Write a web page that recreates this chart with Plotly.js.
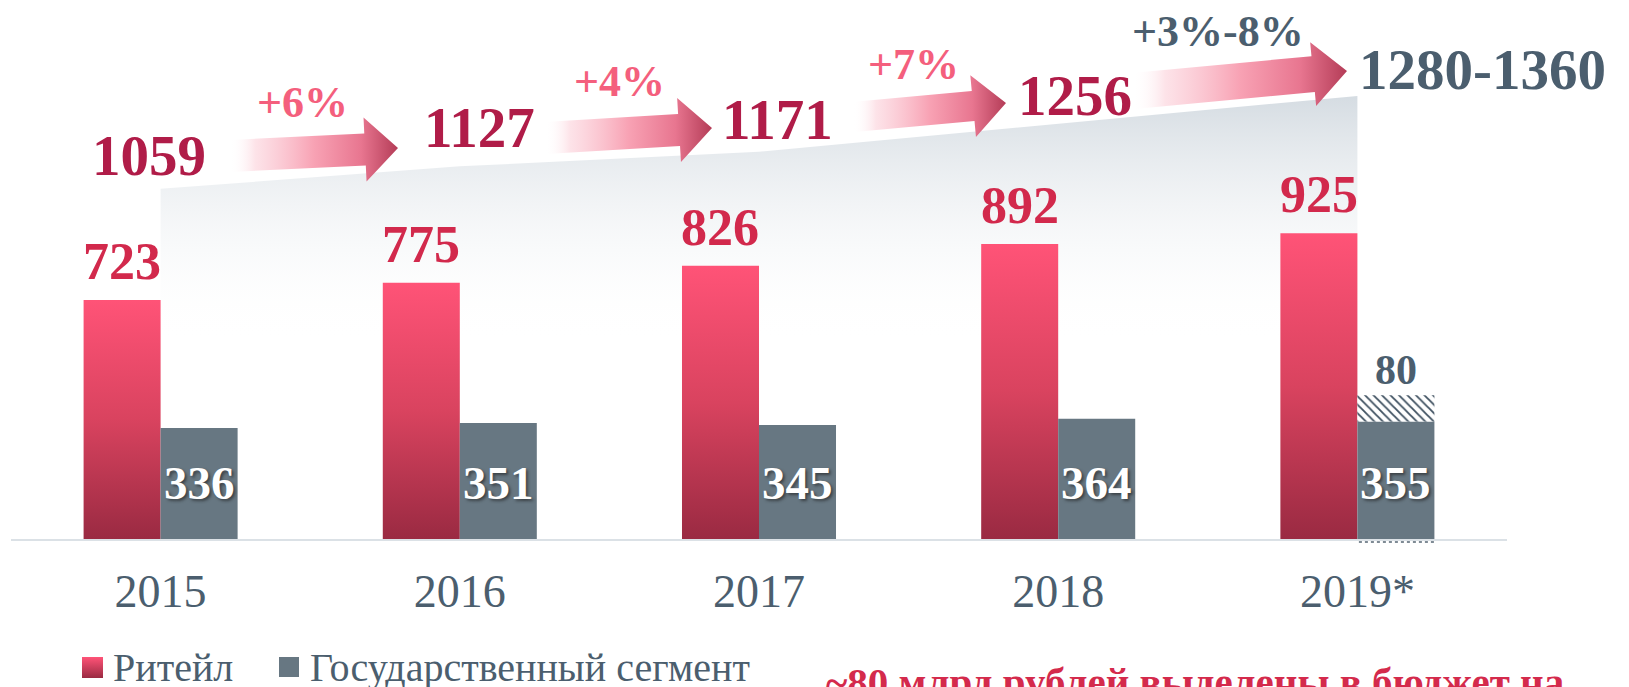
<!DOCTYPE html>
<html><head><meta charset="utf-8">
<script src="https://cdn.plot.ly/plotly-3.0.1.min.js"></script>
<style>html,body{margin:0;padding:0;background:#fff;overflow:hidden}#chart{width:1629px;height:687px}</style>
</head><body><div id="chart"></div>
<script>
// ---- data ----
const years = ['2015', '2016', '2017', '2018', '2019*'];
const retail = [723, 775, 826, 892, 925];
const government = [336, 351, 345, 364, 355];
const govExtra = [null, null, null, null, 80];
const totals = [1059, 1127, 1171, 1256, 1340];      // top edge of the shaded total area (2019 estimated)
const totalLabels = ['1059', '1127', '1171', '1256', '1280-1360'];
const growthLabels = ['+6%', '+4%', '+7%', '+3%-8%'];
const seriesNames = ['Ритейл', 'Государственный сегмент'];
const noteText = '~80 млрд рублей выделены в бюджет на';

// ---- layout helpers ----
const W = 1629, H = 687;
const PL = 11, PR = 1507, PB = 539;
const YMAX = 1630;
const BW = 0.2574;
const FONT = 'Liberation Serif, Times New Roman, serif';
const SLATE = '#4b5e6e';
const xs = years.map((_, i) => i);
const px = x => x / W, py = y => 1 - y / H;

// decorative arrows (pixel geometry): tail center, tip, shaft half, head half, head length
const arrowGeom = [
  [230, 156, 398, 148, 16, 32, 33],
  [545, 138, 712, 128, 16, 32, 33],
  [853, 117, 1006, 103, 15, 31, 33],
  [1133, 91, 1347, 71, 18, 32, 34]
];
const totalPos = [[149, 155], [479, 127], [777, 120], [1075, 95], [1357, 70]];
const growthPos = [[302, 103], [619, 82], [913, 64], [1218, 32]];

function arrowPoly(g) {
  const [tx, ty, hx, hy, sh, hh, hl] = g;
  const L = Math.hypot(hx - tx, hy - ty);
  const ux = (hx - tx) / L, uy = (hy - ty) / L;
  const nx = uy, ny = -ux;
  const nkx = hx - ux * hl, nky = hy - uy * hl;
  const P = [
    [tx + nx * sh, ty + ny * sh],
    [nkx + nx * sh, nky + ny * sh],
    [nkx + nx * hh, nky + ny * hh],
    [hx, hy],
    [nkx - nx * hh, nky - ny * hh],
    [nkx - nx * sh, nky - ny * sh],
    [tx - nx * sh, ty - ny * sh],
    [tx + nx * sh, ty + ny * sh]
  ];
  return { x: P.map(p => p[0]), y: P.map(p => p[1]) };
}

const data = [];
// shaded total area
data.push({
  type: 'scatter', x: xs, y: totals, xaxis: 'x', yaxis: 'y', mode: 'lines',
  line: { color: 'rgba(0,0,0,0)', width: 0 }, fill: 'tozeroy',
  fillgradient: { type: 'vertical', start: 590, stop: 1340,
    colorscale: [[0, 'rgba(255,255,255,0)'], [1, '#d5dce2']] },
  hoverinfo: 'skip', showlegend: false
});
// bars
data.push({ type: 'bar', name: seriesNames[0], x: xs, y: retail, xaxis: 'x2', yaxis: 'y2',
  offset: -BW, width: BW, marker: { color: '#d9435f', line: { width: 0 } }, showlegend: false });
data.push({ type: 'bar', name: seriesNames[1], x: xs, y: government, xaxis: 'x2', yaxis: 'y2',
  offset: 0, width: BW, marker: { color: '#677782', line: { width: 0 } }, showlegend: false });
data.push({ type: 'bar', name: seriesNames[1] + ' (доп.)', x: xs, y: govExtra, base: government,
  xaxis: 'x2', yaxis: 'y2', offset: 0, width: BW,
  marker: { color: '#ffffff', line: { width: 0 },
    pattern: { shape: '\\', fgcolor: '#3e5060', bgcolor: '#ffffff', size: 6, solidity: 0.3 } },
  showlegend: false });
// arrows
arrowGeom.forEach(g => {
  const p = arrowPoly(g);
  data.push({ type: 'scatter', x: p.x, y: p.y, xaxis: 'x3', yaxis: 'y3', mode: 'lines',
    line: { width: 0, color: 'rgba(0,0,0,0)' }, fill: 'toself',
    fillgradient: { type: 'horizontal', start: g[0], stop: g[2],
      colorscale: [[0, 'rgba(255,255,255,0)'], [0.15, 'rgba(252,215,223,0.7)'], [0.5, '#f8a2b4'],
                   [0.78, '#e87690'], [1, '#b43c57']] },
    hoverinfo: 'skip', showlegend: false });
});
// legend squares
function sq(x0, y0, s) { return { x: [x0, x0 + s, x0 + s, x0, x0], y: [y0, y0, y0 + s, y0 + s, y0] }; }
const s1 = sq(82, 657, 21);
data.push({ type: 'scatter', x: s1.x, y: s1.y, xaxis: 'x3', yaxis: 'y3', mode: 'lines',
  line: { width: 0, color: 'rgba(0,0,0,0)' }, fill: 'toself',
  fillgradient: { type: 'vertical', start: 657, stop: 678, colorscale: [[0, '#ff5377'], [1, '#9a2a42']] },
  hoverinfo: 'skip', showlegend: false });
const s2 = sq(279, 657, 20);
data.push({ type: 'scatter', x: s2.x, y: s2.y, xaxis: 'x3', yaxis: 'y3', mode: 'lines',
  line: { width: 0, color: 'rgba(0,0,0,0)' }, fill: 'toself', fillcolor: '#677782',
  hoverinfo: 'skip', showlegend: false });

const annotations = [];
function A(o) { annotations.push(Object.assign({ showarrow: false, xref: 'paper', yref: 'paper' }, o)); }
totalLabels.forEach((t, i) => A({ x: px(totalPos[i][0]), y: py(totalPos[i][1]), text: t,
  xanchor: i === 4 ? 'left' : 'center', yanchor: 'middle',
  font: { family: FONT, size: 57, weight: 'bold', color: i === 4 ? SLATE : '#b01c48' } }));
growthLabels.forEach((t, i) => A({ x: px(growthPos[i][0]), y: py(growthPos[i][1]), text: t,
  xanchor: 'center', yanchor: 'middle',
  font: { family: FONT, size: 44, weight: 'bold', color: i === 3 ? SLATE : '#f45f7d' } }));
retail.forEach((v, i) => A({ xref: 'x2', yref: 'y2', x: i - BW / 2, y: v, text: String(v),
  xanchor: 'center', yanchor: 'bottom', yshift: 8,
  font: { family: FONT, size: 52, weight: 'bold', color: '#d2294c' } }));
government.forEach((v, i) => A({ xref: 'x2', yref: 'y2', x: i + BW / 2, y: 0, text: String(v),
  xanchor: 'center', yanchor: 'bottom', yshift: 28,
  font: { family: FONT, size: 47, weight: 'bold', color: '#ffffff', shadow: '2px 2px 3px rgba(30,30,30,0.6)' } }));
govExtra.forEach((v, i) => { if (v != null) A({ xref: 'x2', yref: 'y2', x: i + BW / 2, y: government[i] + v,
  text: String(v), xanchor: 'center', yanchor: 'bottom', yshift: 0,
  font: { family: FONT, size: 42, weight: 'bold', color: SLATE } }); });
// legend texts
A({ x: px(111), y: py(643), text: seriesNames[0], xanchor: 'left', yanchor: 'top',
  font: { family: FONT, size: 40, color: SLATE } });
A({ x: px(308), y: py(643), text: seriesNames[1], xanchor: 'left', yanchor: 'top',
  font: { family: FONT, size: 40, color: SLATE } });
A({ x: px(824), y: py(657), text: noteText, xanchor: 'left', yanchor: 'top',
  font: { family: FONT, size: 41, weight: 'bold', color: '#d42a4c' } });

const shapes = [{
  type: 'line', xref: 'x2', yref: 'paper', x0: 4 + 0.005, x1: 4 + BW, y0: py(542), y1: py(542),
  line: { color: '#7f8b95', width: 2, dash: 'dot' }
}];

const layout = {
  width: W, height: H, margin: { l: 0, r: 0, t: 0, b: 0 },
  paper_bgcolor: '#ffffff', plot_bgcolor: 'rgba(0,0,0,0)',
  barmode: 'overlay', showlegend: false,
  xaxis: { domain: [PL / W, PR / W], range: [-0.5, 4.5], tickvals: xs, ticktext: years,
    tickfont: { family: FONT, size: 46, color: SLATE }, ticks: '', ticklabelstandoff: 11,
    showgrid: false, zeroline: false, showline: true, linecolor: '#dbe1e6', linewidth: 2, fixedrange: true },
  yaxis: { domain: [(H - PB) / H, 1], range: [0, YMAX], visible: false, fixedrange: true },
  xaxis2: { overlaying: 'x', range: [-0.5, 4.5], visible: false, fixedrange: true },
  yaxis2: { overlaying: 'y', range: [0, YMAX], visible: false, fixedrange: true },
  xaxis3: { domain: [0, 1], range: [0, W], anchor: 'y3', visible: false, fixedrange: true },
  yaxis3: { domain: [0, 1], range: [H, 0], anchor: 'x3', visible: false, fixedrange: true },
  annotations: annotations, shapes: shapes
};

Plotly.newPlot('chart', data, layout, { staticPlot: true, displayModeBar: false }).then(gd => {
  const ns = 'http://www.w3.org/2000/svg';
  const svg = gd.querySelector('.main-svg');
  let defs = svg.querySelector('defs');
  if (!defs) { defs = document.createElementNS(ns, 'defs'); svg.insertBefore(defs, svg.firstChild); }
  const lg = document.createElementNS(ns, 'linearGradient');
  lg.setAttribute('id', 'retailGrad');
  lg.setAttribute('x1', '0'); lg.setAttribute('y1', '0'); lg.setAttribute('x2', '0'); lg.setAttribute('y2', '1');
  [[0, '#ff5377'], [0.5, '#d9435f'], [1, '#9a2a42']].forEach(s => {
    const st = document.createElementNS(ns, 'stop');
    st.setAttribute('offset', s[0]); st.setAttribute('stop-color', s[1]);
    lg.appendChild(st);
  });
  defs.appendChild(lg);
  const traces = gd.querySelectorAll('.barlayer .trace');
  if (traces.length) traces[0].querySelectorAll('path').forEach(p => { p.style.fill = 'url(#retailGrad)'; });
});
</script>
</body></html>
